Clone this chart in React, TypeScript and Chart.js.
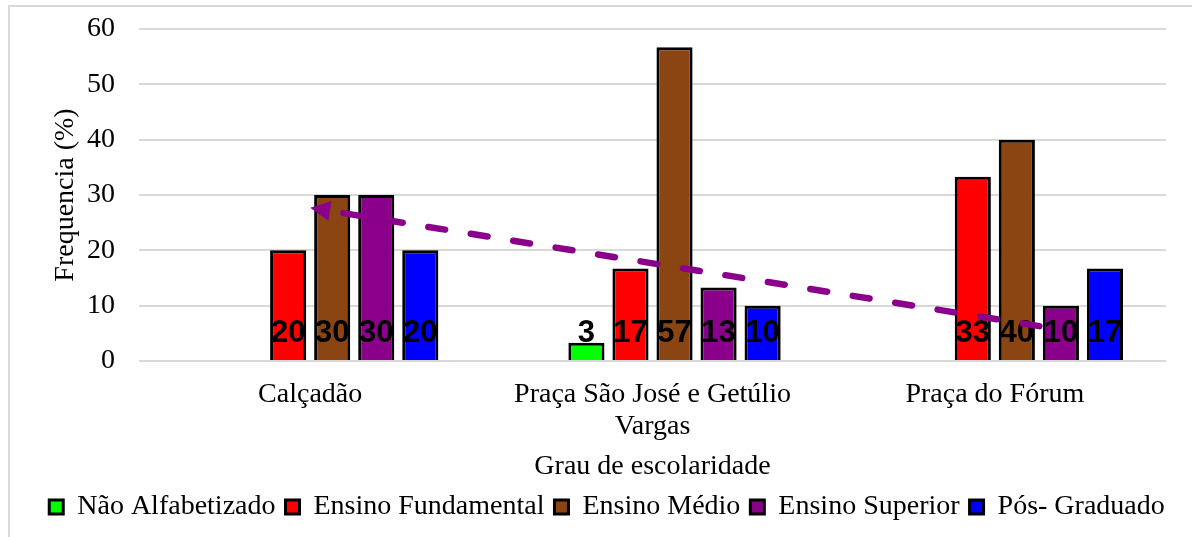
import React, { useEffect, useRef } from "react";
import { Chart, registerables } from "chart.js";

Chart.register(...registerables);

const categories: (string | string[])[] = [
  "Calçadão",
  ["Praça São José e Getúlio", "Vargas"],
  "Praça do Fórum",
];

const seriesNames = [
  "Não Alfabetizado",
  "Ensino Fundamental",
  "Ensino Médio",
  "Ensino Superior",
  "Pós- Graduado",
];

const naoAlfabetizado: (number | null)[] = [null, 3.3, null];
const ensinoFundamental: (number | null)[] = [20, 16.7, 33.3];
const ensinoMedio: (number | null)[] = [30, 56.7, 40];
const ensinoSuperior: (number | null)[] = [30, 13.3, 10];
const posGraduado: (number | null)[] = [20, 10, 16.7];

const seriesColors = ["#00FF00", "#FF0000", "#8B4513", "#8B008B", "#0000FF"];

const yTicks = [0, 10, 20, 30, 40, 50, 60];

// trend arrow annotation, in data terms (category index, value)
const arrowFrom = { cat: 2.13, value: 6.3 };
const arrowTo = { cat: 0, value: 27.7 };
const arrowColor = "#8B008B";

const SERIF = "'Liberation Serif', 'Times New Roman', serif";
const SANS = "'Liberation Sans', Arial, sans-serif";

const valueLabelPlugin = {
  id: "valueLabels",
  afterDatasetsDraw(chart: any) {
    const ctx = chart.ctx;
    const yScale = chart.scales.y;
    const base = yScale.getPixelForValue(0);
    ctx.save();
    ctx.font = `bold 31px ${SANS}`;
    ctx.fillStyle = "#000";
    ctx.textAlign = "center";
    ctx.textBaseline = "alphabetic";
    chart.data.datasets.forEach((ds: any, di: number) => {
      if (!ds.label) return;
      const meta = chart.getDatasetMeta(di);
      meta.data.forEach((el: any, i: number) => {
        const v = ds.data[i];
        if (v === null || v === undefined) return;
        ctx.fillText(String(Math.round(v)), el.x, base - 19);
      });
    });
    ctx.restore();
  },
};

const arrowPlugin = {
  id: "trendArrow",
  afterDatasetsDraw(chart: any) {
    const ctx = chart.ctx;
    const xs = chart.scales.x;
    const ys = chart.scales.y;
    const x1 = xs.getPixelForValue(arrowFrom.cat);
    const y1 = ys.getPixelForValue(arrowFrom.value);
    const x2 = xs.getPixelForValue(arrowTo.cat);
    const y2 = ys.getPixelForValue(arrowTo.value);
    const ang = Math.atan2(y2 - y1, x2 - x1);
    const headLen = 20;
    const headHalf = 10;
    const bx = x2 - headLen * Math.cos(ang);
    const by = y2 - headLen * Math.sin(ang);
    ctx.save();
    ctx.strokeStyle = arrowColor;
    ctx.fillStyle = arrowColor;
    ctx.lineWidth = 6.5;
    ctx.lineCap = "round";
    ctx.setLineDash([17, 26]);
    ctx.beginPath();
    ctx.moveTo(x1, y1);
    ctx.lineTo(bx + 2 * Math.cos(ang), by + 2 * Math.sin(ang));
    ctx.stroke();
    ctx.setLineDash([]);
    ctx.beginPath();
    ctx.moveTo(x2, y2);
    ctx.lineTo(bx + headHalf * Math.sin(ang), by - headHalf * Math.cos(ang));
    ctx.lineTo(bx - headHalf * Math.sin(ang), by + headHalf * Math.cos(ang));
    ctx.closePath();
    ctx.fill();
    ctx.restore();
  },
};

export default function App() {
  const ref = useRef<HTMLCanvasElement | null>(null);

  useEffect(() => {
    if (!ref.current) return;
    const values = [naoAlfabetizado, ensinoFundamental, ensinoMedio, ensinoSuperior, posGraduado];
    const datasets: any[] = [
      {
        label: "",
        data: [null, null, null],
        backgroundColor: "transparent",
        borderWidth: 0,
        categoryPercentage: 0.772,
        barPercentage: 0.82,
      },
      ...values.map((d, i) => ({
        label: seriesNames[i],
        data: d,
        backgroundColor: seriesColors[i],
        borderColor: "#000000",
        borderWidth: 3,
        categoryPercentage: 0.772,
        barPercentage: 0.82,
      })),
    ];

    const chart = new Chart(ref.current, {
      type: "bar",
      data: { labels: categories as any, datasets },
      plugins: [valueLabelPlugin, arrowPlugin],
      options: {
        responsive: false,
        animation: false,
        devicePixelRatio: 1,
        layout: { padding: { left: 22, right: 0, top: 29, bottom: 6 } },
        plugins: {
          tooltip: { enabled: false },
          legend: {
            position: "bottom",
            labels: {
              filter: (item: any) => !!item.text,
              font: { family: SERIF, size: 28 },
              color: "#000",
              boxWidth: 14,
              boxHeight: 14,
              padding: 10,
            },
          },
        },
        scales: {
          x: {
            afterFit: (s: any) => {
              s.height = 122;
              s.paddingLeft = 0;
              s.paddingRight = 0;
            },
            grid: { display: false, drawTicks: false },
            border: { display: false },
            ticks: {
              color: "#000",
              font: { family: SERIF, size: 28, lineHeight: 32 / 28 },
              padding: 18,
              maxRotation: 0,
              autoSkip: false,
            },
            title: {
              display: true,
              text: "Grau de escolaridade",
              color: "#000",
              font: { family: SERIF, size: 28 },
              padding: { top: 0, bottom: 0 },
            },
          },
          y: {
            min: 0,
            max: 60,
            afterBuildTicks: (s: any) => {
              s.ticks = yTicks.map((v) => ({ value: v }));
            },
            afterFit: (s: any) => {
              s.width = 117;
              s.paddingTop = 0;
              s.paddingBottom = 0;
            },
            grid: { color: "#d9d9d9", lineWidth: 2, drawTicks: false },
            border: { display: false },
            ticks: {
              color: "#000",
              font: { family: SERIF, size: 28 },
              padding: 24,
            },
            title: {
              display: true,
              text: "Frequencia (%)",
              color: "#000",
              font: { family: SERIF, size: 28 },
              padding: { top: 27, bottom: 0 },
            },
          },
          yRight: {
            position: "right",
            afterFit: (s: any) => {
              s.width = 26;
              s.paddingTop = 0;
              s.paddingBottom = 0;
            },
            grid: { display: false, drawTicks: false },
            border: { display: false },
            ticks: { display: false },
          },
        },
      },
    });
    return () => chart.destroy();
  }, []);

  return (
    <div style={{ position: "absolute", left: 0, top: 0, width: 1192, height: 537, background: "#fff" }}>
      <div
        style={{
          position: "absolute",
          left: 8,
          top: 5,
          right: 0,
          bottom: 0,
          borderTop: "2px solid #d9d9d9",
          borderLeft: "2px solid #d9d9d9",
        }}
      />
      <canvas ref={ref} width={1192} height={537} style={{ position: "absolute", left: 0, top: 0 }} />
    </div>
  );
}
